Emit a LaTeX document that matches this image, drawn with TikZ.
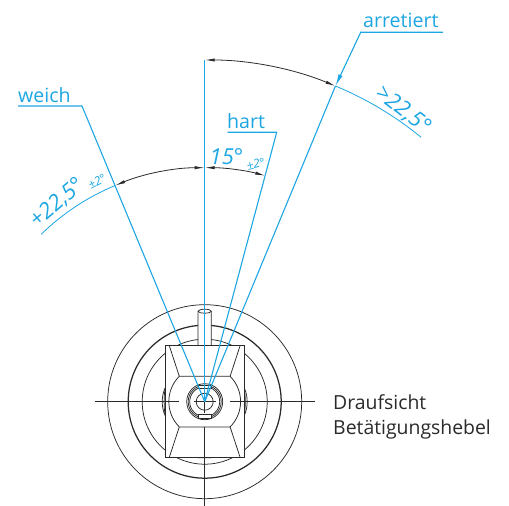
\documentclass[tikz,border=0pt]{standalone}
\usepackage{fontspec}
\setmainfont{Open Sans}
\usetikzlibrary{arrows.meta}
\definecolor{cblue}{HTML}{1CA6E2}
\definecolor{cdark}{HTML}{2A2A2A}
\tikzset{
  thinl/.style={draw=cdark,line width=0.75pt},
  heavy/.style={draw=cdark,line width=1.25pt},
  bluel/.style={draw=cblue,line width=1.1pt},
  dimarc/.style={draw=cdark,line width=0.8pt,{Latex[length=10pt,width=3.2pt]}-{Latex[length=10pt,width=3.2pt]}},
  lab/.style={text=cblue,font=\fontsize{19.6}{22}\selectfont,inner sep=0pt},
  dimt/.style={text=cblue,font=\itshape\fontsize{22}{24}\selectfont,inner sep=0pt},
  tolt/.style={text=cblue,font=\itshape\fontsize{12}{14}\selectfont,inner sep=0pt},
}
\begin{document}
\begin{tikzpicture}[x=1pt,y=1pt]
\useasboundingbox (0,0) rectangle (509,506);
\begin{scope}[shift={(204.7,104.3)}]
\coordinate (C) at (0,0);
% body circles
\draw[thinl] (C) circle[radius=97];
\draw[heavy] (C) circle[radius=76.5];
\draw[thinl] (C) circle[radius=62.5];
% centre lines
\coordinate (hl1) at (-110,0); \coordinate (hl2) at (-25.4,0);
\coordinate (hr1) at (25.4,0); \coordinate (hr2) at (110.3,0);
\coordinate (vb1) at (0,-25); \coordinate (vb2) at (0,-104.3);
% lever
\draw[thinl,fill=white] (-6.6,-56) -- (-6.6,90.5) arc[start angle=180,end angle=0,x radius=6.6,y radius=2] -- (6.6,-56) -- cycle;
\draw[thinl] (-6.6,90.5) arc[start angle=180,end angle=360,x radius=6.6,y radius=2];
% lenses at the housing sides
\draw[thinl] (-39.4,14) .. controls (-43.5,6) and (-43.5,-6) .. (-39.4,-14);
\draw[thinl] (-39.4,14) .. controls (-41,6) and (-41,-6) .. (-39.4,-14);
\draw[thinl] (39.4,14) .. controls (43.5,6) and (43.5,-6) .. (39.4,-14);
\draw[thinl] (39.4,14) .. controls (41,6) and (41,-6) .. (39.4,-14);
% housing
\draw[heavy,line width=0.95pt,fill=white] (-39.4,-55.6) rectangle (39.4,56);
\draw[thinl] (-35.4,56) -- (-25.4,25.4) -- (25.4,25.4) -- (35.4,56);
\draw[thinl] (-35.4,-55.6) -- (-25.4,-25.2) -- (25.4,-25.2) -- (35.4,-55.6);
\draw[thinl] (-25.4,25.4) arc[start angle=135,end angle=225,radius=35.8];
\draw[thinl] (25.4,25.4) arc[start angle=45,end angle=-45,radius=35.8];
\draw[thinl] (hl1) -- (hl2);
\draw[thinl] (hr1) -- (hr2);
\draw[thinl] (vb1) -- (vb2);
% centre piece
\draw[thinl,fill=white] (C) circle[radius=18];
\draw[thinl] (C) circle[radius=16.5];
\draw[thinl] (C) circle[radius=15];
\draw[thinl,fill=white] (-6.2,13) -- (6.2,13) -- (6.2,16.6) -- (-6.2,16.6) -- cycle;
\draw[thinl,fill=white] (-6.2,-13) -- (6.2,-13) -- (6.2,-16.6) -- (-6.2,-16.6) -- cycle;
\draw[thinl] (C) circle[radius=8.5];
\draw[thinl] (-11,0) -- (11,0) (0,-11) -- (0,11);
% blue leaders
\coordinate (top) at (0,341.7);
\coordinate (aA) at (90:234);
\coordinate (aW) at (112.5:234);
\coordinate (aH) at (75:234);
\coordinate (aR) at (67.5:341.7);
\coordinate (sW) at (-122.7,295.7);
\coordinate (eW) at (-186.7,295.7);
\coordinate (sH) at (72,269.4);
\coordinate (eH) at (23,269.4);
\coordinate (sR) at (156,369.4);
\coordinate (eR) at (238.3,369.4);
\draw[bluel] (C) -- (top);
\draw[bluel] (C) -- (sW) -- (eW);
\draw[bluel] (C) -- (sH) -- (eH);
\draw[bluel] (C) -- (aR);
\draw[bluel,-{Latex[length=12pt,width=4.5pt]}] (eR) -- (sR) -- (aR);
\draw[draw=cblue,line width=0.8pt] (aW) arc[start angle=112.5,end angle=134.3,radius=234];
\draw[draw=cblue,line width=0.8pt] (aR) arc[start angle=67.5,end angle=50.7,radius=341.7];
% dimension arcs
\draw[dimarc] (top) arc[start angle=90,end angle=67.5,radius=341.7];
\draw[dimarc] (aW) arc[start angle=112.5,end angle=90,radius=234];
\draw[dimarc] (aA) arc[start angle=90,end angle=75,radius=234];
\end{scope}
% labels
\node[lab,anchor=base west] (lW) at (18,403.5) {weich};
\node[lab,anchor=base west] (lH) at (227,377.7) {hart};
\node[lab,anchor=base west] (lR) at (363,478) {arretiert};
\node[dimt,rotate=-38] (dR) at (403,396) {>22,5°};
\node[dimt,rotate=41] (dW) at (57,303) {+22,5°};
\node[dimt] (dH) at (226.5,349) {15°};
\node[tolt,rotate=28] (tW) at (97,324.5) {±2°};
\node[tolt,rotate=12] (tH) at (255.7,342) {±2°};
\node[anchor=base west,text=cdark,font=\fontsize{19.4}{27}\selectfont,inner sep=0pt] (cap) at (333,96) {Draufsicht};
\node[anchor=base west,text=cdark,font=\fontsize{19.4}{27}\selectfont,inner sep=0pt] (cap2) at (333,71) {Betätigungshebel};
\end{tikzpicture}
\end{document}
